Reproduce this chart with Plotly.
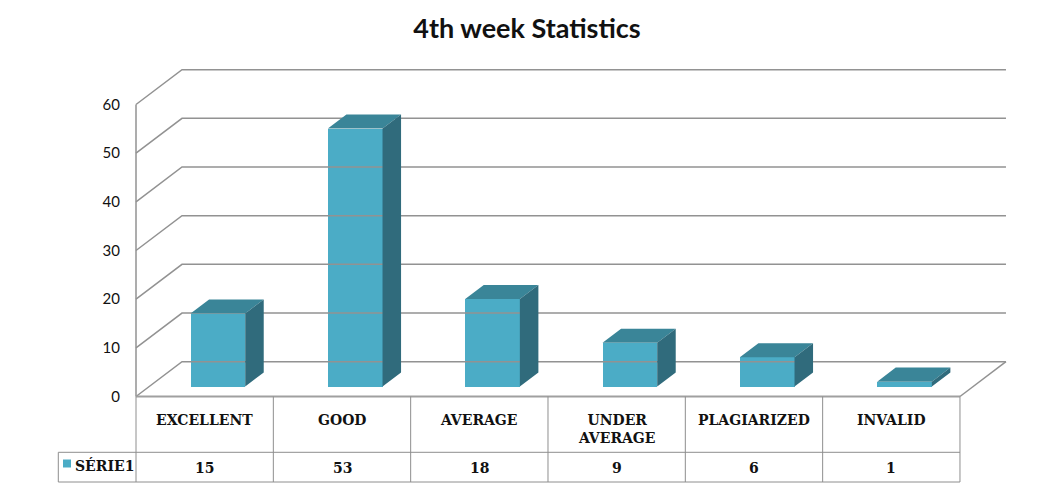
import plotly.graph_objects as go

# ---------------- data ----------------
categories = ["EXCELLENT", "GOOD", "AVERAGE", "UNDER AVERAGE", "PLAGIARIZED", "INVALID"]
values = [15, 53, 18, 9, 6, 1]
series_name = "SÉRIE1"
y_ticks = [0, 10, 20, 30, 40, 50, 60]
title_text = "4th week Statistics"

# ---------------- geometry (pixel calibration) ----------------
PAGE_OFF = 8                     # default body margin of the html page
W, H = 1058 - 2 * PAGE_OFF, 491 - 2 * PAGE_OFF
X0_PX, COL_PX = 136.0 - PAGE_OFF, 137.33     # first table column edge, column width
Y0_PX, UNIT_PX = 396.5 - PAGE_OFF, 4.867     # value 0 on front plane, px per unit

def px_x(p):
    return (p - PAGE_OFF - X0_PX) / COL_PX

def px_y(p):
    return (Y0_PX - (p - PAGE_OFF)) / UNIT_PX

x_range = [(0 - X0_PX) / COL_PX, (W - X0_PX) / COL_PX]
y_range = [(Y0_PX - H) / UNIT_PX, Y0_PX / UNIT_PX]

DX = 46.0 / COL_PX      # full depth in x units
DY = 34.8 / UNIT_PX     # full depth in y units
F1, F2 = 0.287, 0.69    # bar front/back depth fractions
BAR_W = 0.398
n = len(categories)

FRONT = "#4BACC6"
TOP = "#3A8598"
SIDE = "#306B7C"
GRID = "#929292"
TBL = "#8E8E8E"

fig = go.Figure()

# back wall gridlines with diagonal on left wall
gx, gy = [], []
for v in y_ticks:
    gx += [0, DX, n + DX, None]
    gy += [v, v + DY, v + DY, None]
# floor right diagonal
gx += [n, n + DX, None]
gy += [0, DY, None]
fig.add_trace(go.Scatter(x=gx, y=gy, mode="lines", line=dict(color=GRID, width=1.5),
                         hoverinfo="skip", showlegend=False))
# vertical axis line
fig.add_trace(go.Scatter(x=[0, 0], y=[0, max(y_ticks)], mode="lines",
                         line=dict(color=GRID, width=1.5), hoverinfo="skip", showlegend=False))

# bars: front face
ox, oy = F1 * DX, F1 * DY
dd_x, dd_y = (F2 - F1) * DX, (F2 - F1) * DY
centers = [i + 0.5 + ox for i in range(n)]
fig.add_trace(go.Bar(x=centers, y=values, base=oy, width=BAR_W,
                     marker=dict(color=FRONT, line=dict(width=0)),
                     name=series_name, showlegend=False, hoverinfo="skip"))

tx, ty, sx, sy = [], [], [], []
for c, v in zip(centers, values):
    xl, xr = c - BAR_W / 2, c + BAR_W / 2
    top = oy + v
    tx += [xl, xr, xr + dd_x, xl + dd_x, xl, None]
    ty += [top, top, top + dd_y, top + dd_y, top, None]
    sx += [xr, xr, xr + dd_x, xr + dd_x, xr, None]
    sy += [oy, top, top + dd_y, oy + dd_y, oy, None]
fig.add_trace(go.Scatter(x=tx, y=ty, fill="toself", fillcolor=TOP, mode="lines",
                         line=dict(width=0, color=TOP), hoverinfo="skip", showlegend=False))
fig.add_trace(go.Scatter(x=sx, y=sy, fill="toself", fillcolor=SIDE, mode="lines",
                         line=dict(width=0, color=SIDE), hoverinfo="skip", showlegend=False))

# ---------------- data table ----------------
row_sep = px_y(452.3)
bottom = px_y(482.0)
left_ser = px_x(58.3)
shapes = []
shapes.append(dict(type="line", xref="x", yref="y", x0=0, x1=n, y0=0, y1=0,
                   line=dict(color="#A0A0A0", width=2.2)))
shapes.append(dict(type="line", xref="x", yref="y", x0=left_ser, x1=n, y0=row_sep, y1=row_sep,
                   line=dict(color=TBL, width=1)))
shapes.append(dict(type="line", xref="x", yref="y", x0=left_ser, x1=n, y0=bottom, y1=bottom,
                   line=dict(color=TBL, width=1)))
for i in range(n + 1):
    shapes.append(dict(type="line", xref="x", yref="y", x0=i, x1=i, y0=0, y1=bottom,
                       line=dict(color=TBL, width=1)))
shapes.append(dict(type="line", xref="x", yref="y", x0=left_ser, x1=left_ser, y0=row_sep, y1=bottom,
                   line=dict(color=TBL, width=1)))
# legend key square
shapes.append(dict(type="rect", xref="x", yref="y", x0=px_x(63), x1=px_x(71),
                   y0=px_y(467.5), y1=px_y(459.5), fillcolor=FRONT, line=dict(width=0)))

tfont = dict(family="DejaVu Serif", size=14, color="#111111", weight="bold")
annotations = []
for i, cat in enumerate(categories):
    annotations.append(dict(x=i + 0.5, y=px_y(410), xref="x", yref="y",
                            text=cat.replace(" ", "<br>"), showarrow=False,
                            xanchor="center", yanchor="top", font=tfont))
    annotations.append(dict(x=i + 0.5, y=px_y(468), xref="x", yref="y",
                            text=str(values[i]), showarrow=False,
                            xanchor="center", yanchor="middle", font=tfont))
annotations.append(dict(x=px_x(73), y=px_y(465), xref="x", yref="y", text=series_name,
                        showarrow=False, xanchor="left", yanchor="middle", font=tfont))

fig.update_layout(
    width=W, height=H, autosize=False,
    margin=dict(l=0, r=0, t=0, b=0),
    paper_bgcolor="white", plot_bgcolor="white",
    title=dict(text="<b>" + title_text + "</b>", x=(527 - PAGE_OFF) / W, xanchor="center",
               y=1 - (29 - PAGE_OFF) / H, yanchor="middle",
               font=dict(family="Lato", size=27, color="#111111")),
    xaxis=dict(range=x_range, visible=False, fixedrange=True),
    yaxis=dict(range=y_range, showgrid=False, zeroline=False, showline=False,
               tickmode="array", tickvals=y_ticks, ticktext=[str(t) for t in y_ticks],
               ticks="", anchor="free", position=X0_PX / W, ticklabelstandoff=16,
               tickfont=dict(family="Lato", size=15, color="#111111"), fixedrange=True),
    shapes=shapes, annotations=annotations, showlegend=False, bargap=0,
)

fig.write_html("out.html")
